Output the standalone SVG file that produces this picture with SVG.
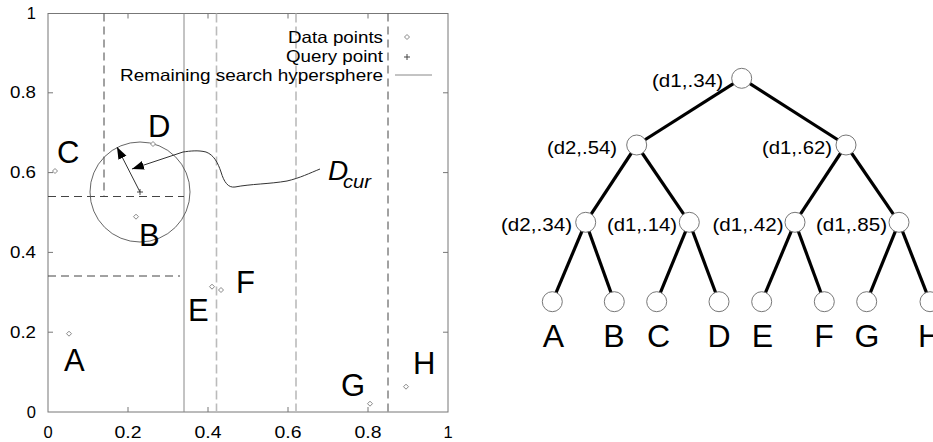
<svg xmlns="http://www.w3.org/2000/svg" width="933" height="442" viewBox="0 0 933 442">
<defs>
<style>
text{font-family:"Liberation Sans",Arial,sans-serif;fill:#000}
.tick{font-size:16.5px}
.big{font-size:31px}
.leaf{font-size:32px}
.leg{font-size:16.5px}
.lab{font-size:19px}
.frame{fill:none;stroke:#777;stroke-width:1}
.tk{stroke:#777;stroke-width:1}
.dd{stroke:#444;stroke-width:1;stroke-dasharray:8,5;fill:none}
.ld{stroke:#bbb;stroke-width:1.6;stroke-dasharray:9,4;fill:none}
.pt{fill:#fff;stroke:#888;stroke-width:1}
.edge{stroke:#000;stroke-width:3.2;fill:none}
.node{fill:#fff;stroke:#777;stroke-width:1}
</style>
<marker id="ah" markerUnits="userSpaceOnUse" markerWidth="14" markerHeight="10" refX="12" refY="4.5" orient="auto">
<path d="M0,0 L12,4.5 L0,9 Z" fill="#000"/>
</marker>
</defs>
<rect width="933" height="442" fill="#fff"/>
<g id="plot">
<rect class="frame" x="48" y="13.5" width="400" height="398.5"/>
<g class="tk">
<path d="M128,412v-5M208,412v-5M288,412v-5M368,412v-5M128,13.5v5M208,13.5v5M288,13.5v5M368,13.5v5M48,332.2h5M48,252.4h5M48,172.6h5M48,92.8h5M448,332.2h-5M448,252.4h-5M448,172.6h-5M448,92.8h-5"/>
</g>
<g class="tick">
<text x="36" y="18.5" text-anchor="end">1</text>
<text x="36" y="98" text-anchor="end" textLength="26" lengthAdjust="spacingAndGlyphs">0.8</text>
<text x="36" y="178" text-anchor="end" textLength="26" lengthAdjust="spacingAndGlyphs">0.6</text>
<text x="36" y="258" text-anchor="end" textLength="26" lengthAdjust="spacingAndGlyphs">0.4</text>
<text x="36" y="338" text-anchor="end" textLength="26" lengthAdjust="spacingAndGlyphs">0.2</text>
<text x="36" y="418" text-anchor="end">0</text>
<text x="48" y="437.5" text-anchor="middle">0</text>
<text x="128" y="437.5" text-anchor="middle" textLength="27" lengthAdjust="spacingAndGlyphs">0.2</text>
<text x="208" y="437.5" text-anchor="middle" textLength="27" lengthAdjust="spacingAndGlyphs">0.4</text>
<text x="288" y="437.5" text-anchor="middle" textLength="27" lengthAdjust="spacingAndGlyphs">0.6</text>
<text x="368" y="437.5" text-anchor="middle" textLength="27" lengthAdjust="spacingAndGlyphs">0.8</text>
<text x="448" y="437.5" text-anchor="middle">1</text>
</g>
<line x1="184" y1="13.5" x2="184" y2="412" stroke="#888" stroke-width="1"/>
<path class="dd" d="M104,13.5V196.5M48,196.5H184M48,276H180M388,13.5V412"/>
<path class="ld" d="M216.5,13.5V412M296,13.5V412"/>
<circle cx="140" cy="192" r="50" fill="none" stroke="#555" stroke-width="0.9"/>
<g class="pt">
<path d="M55,168.5l2.5,2.5l-2.5,2.5l-2.5,-2.5z"/>
<path d="M153,141.5l2.5,2.5l-2.5,2.5l-2.5,-2.5z"/>
<path d="M136,214.2l2.5,2.5l-2.5,2.5l-2.5,-2.5z"/>
<path d="M212,284.2l2.5,2.5l-2.5,2.5l-2.5,-2.5z"/>
<path d="M221,287.5l2.5,2.5l-2.5,2.5l-2.5,-2.5z"/>
<path d="M69,331.2l2.5,2.5l-2.5,2.5l-2.5,-2.5z"/>
<path d="M370,401.2l2.5,2.5l-2.5,2.5l-2.5,-2.5z"/>
<path d="M406,384.2l2.5,2.5l-2.5,2.5l-2.5,-2.5z"/>
<path d="M407,34.5l2.5,2.5l-2.5,2.5l-2.5,-2.5z"/>
</g>
<path d="M137,192h6M140,189v6M404,57h6M407,54v6" stroke="#444" stroke-width="1"/>
<line x1="395" y1="75" x2="432" y2="75" stroke="#888" stroke-width="1"/>
<g class="leg">
<text x="383" y="43" text-anchor="end" textLength="95" lengthAdjust="spacingAndGlyphs">Data points</text>
<text x="383" y="62" text-anchor="end" textLength="97" lengthAdjust="spacingAndGlyphs">Query point</text>
<text x="383" y="81" text-anchor="end" textLength="263" lengthAdjust="spacingAndGlyphs">Remaining search hypersphere</text>
</g>
<line x1="140" y1="192" x2="117" y2="147" stroke="#333" stroke-width="1" marker-end="url(#ah)"/>
<path d="M320,169 C310,173 300,178 287,181 C270,184 250,184 235,187 C228,188 224,182 221,172 C218,163 214,155 206,152 C198,150 190,151 183,152 L132,169" fill="none" stroke="#333" stroke-width="1" marker-end="url(#ah)"/>
<text x="328" y="180" font-size="28" font-style="italic">D</text>
<text x="343" y="188" font-size="19" font-style="italic" textLength="28" lengthAdjust="spacingAndGlyphs">cur</text>
<g class="big">
<text x="148" y="137">D</text>
<text x="57" y="163">C</text>
<text x="139" y="246">B</text>
<text x="188" y="321">E</text>
<text x="236" y="293">F</text>
<text x="64" y="371">A</text>
<text x="341" y="396">G</text>
<text x="413" y="374">H</text>
</g>
</g>
<g id="connectors" class="edge">
<line x1="741.7" y1="78.3" x2="636.7" y2="145"/>
<line x1="741.7" y1="78.3" x2="846" y2="145"/>
<line x1="636.7" y1="145" x2="585.7" y2="222.3"/>
<line x1="636.7" y1="145" x2="689.3" y2="222.3"/>
<line x1="846" y1="145" x2="795" y2="222.3"/>
<line x1="846" y1="145" x2="899" y2="222.3"/>
<line x1="585.7" y1="222.3" x2="552.3" y2="301.7"/>
<line x1="585.7" y1="222.3" x2="614.3" y2="301.7"/>
<line x1="689.3" y1="222.3" x2="656.7" y2="301.7"/>
<line x1="689.3" y1="222.3" x2="719" y2="301.7"/>
<line x1="795" y1="222.3" x2="761.7" y2="301.7"/>
<line x1="795" y1="222.3" x2="824.3" y2="301.7"/>
<line x1="899" y1="222.3" x2="866.7" y2="301.7"/>
<line x1="899" y1="222.3" x2="930" y2="301.7"/>
</g>
<g id="n_root"><circle class="node" cx="741.7" cy="78.3" r="10"/><text class="lab" x="723" y="87" text-anchor="end" textLength="71" lengthAdjust="spacingAndGlyphs">(d1,.34)</text></g>
<g id="n_d2_54"><circle class="node" cx="636.7" cy="145" r="10"/><text class="lab" x="617" y="153.5" text-anchor="end" textLength="70" lengthAdjust="spacingAndGlyphs">(d2,.54)</text></g>
<g id="n_d1_62"><circle class="node" cx="846" cy="145" r="10"/><text class="lab" x="832" y="153.5" text-anchor="end" textLength="70" lengthAdjust="spacingAndGlyphs">(d1,.62)</text></g>
<g id="n_d2_34"><circle class="node" cx="585.7" cy="222.3" r="10"/><text class="lab" x="572" y="231" text-anchor="end" textLength="71" lengthAdjust="spacingAndGlyphs">(d2,.34)</text></g>
<g id="n_d1_14"><circle class="node" cx="689.3" cy="222.3" r="10"/><text class="lab" x="677" y="231" text-anchor="end" textLength="70" lengthAdjust="spacingAndGlyphs">(d1,.14)</text></g>
<g id="n_d1_42"><circle class="node" cx="795" cy="222.3" r="10"/><text class="lab" x="783.5" y="231" text-anchor="end" textLength="71" lengthAdjust="spacingAndGlyphs">(d1,.42)</text></g>
<g id="n_d1_85"><circle class="node" cx="899" cy="222.3" r="10"/><text class="lab" x="887" y="231" text-anchor="end" textLength="71" lengthAdjust="spacingAndGlyphs">(d1,.85)</text></g>
<g id="leaf_A"><circle class="node" cx="552.3" cy="301.7" r="10"/><text class="leaf" x="553.5" y="346.5" text-anchor="middle">A</text></g>
<g id="leaf_B"><circle class="node" cx="614.3" cy="301.7" r="10"/><text class="leaf" x="614" y="346.5" text-anchor="middle">B</text></g>
<g id="leaf_C"><circle class="node" cx="656.7" cy="301.7" r="10"/><text class="leaf" x="658.5" y="346.5" text-anchor="middle">C</text></g>
<g id="leaf_D"><circle class="node" cx="719" cy="301.7" r="10"/><text class="leaf" x="719" y="346.5" text-anchor="middle">D</text></g>
<g id="leaf_E"><circle class="node" cx="761.7" cy="301.7" r="10"/><text class="leaf" x="762.5" y="346.5" text-anchor="middle">E</text></g>
<g id="leaf_F"><circle class="node" cx="824.3" cy="301.7" r="10"/><text class="leaf" x="824" y="346.5" text-anchor="middle">F</text></g>
<g id="leaf_G"><circle class="node" cx="866.7" cy="301.7" r="10"/><text class="leaf" x="867" y="346.5" text-anchor="middle">G</text></g>
<g id="leaf_H"><circle class="node" cx="930" cy="301.7" r="10"/><text class="leaf" x="918" y="346.5">H</text></g>
</svg>
